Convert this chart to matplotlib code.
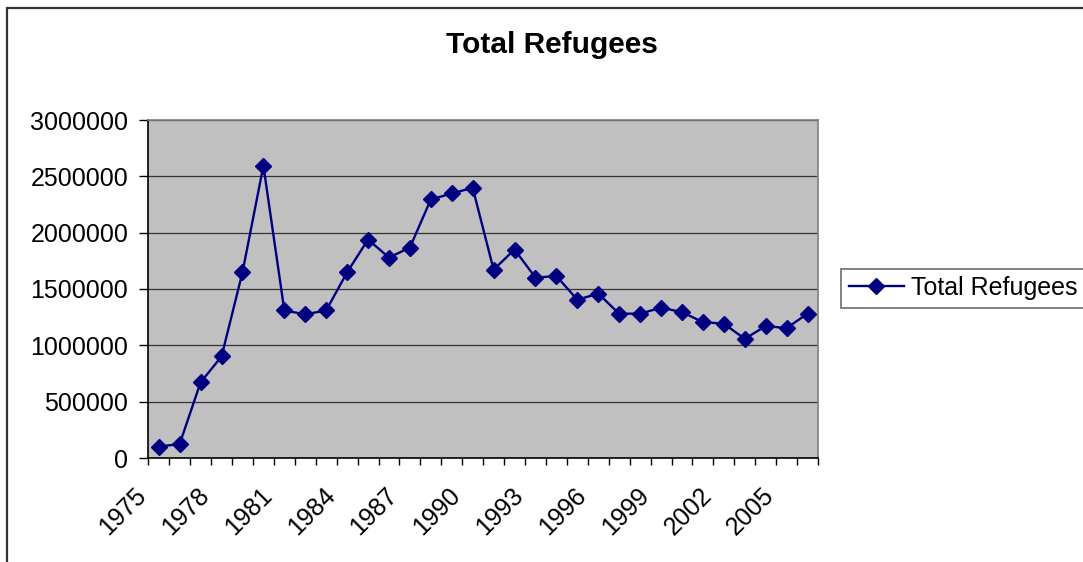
import matplotlib
matplotlib.use("Agg")
import matplotlib.pyplot as plt
import matplotlib.transforms as mtransforms
from matplotlib.patches import Rectangle
from matplotlib.ticker import FixedLocator, NullFormatter, FixedFormatter

years = list(range(1975, 2007))
refugees = [100000, 125000, 672000, 901000, 1648000, 2594000, 1310000, 1275000,
            1310000, 1648000, 1939000, 1779000, 1868000, 2295000, 2348000, 2398000,
            1672000, 1850000, 1601000, 1615000, 1405000, 1459000, 1281000, 1281000,
            1334000, 1295000, 1206000, 1192000, 1058000, 1171000, 1153000, 1281000]
series_name = "Total Refugees"
chart_title = "Total Refugees"
y_ticks = [0, 500000, 1000000, 1500000, 2000000, 2500000, 3000000]

plt.rcParams['font.family'] = ['Liberation Sans', 'DejaVu Sans']

W, H = 1083, 562
fig = plt.figure(figsize=(W / 100, H / 100), dpi=100)
fig.patch.set_facecolor('white')

# chart border
fig.patches.append(Rectangle((7 / W, -0.1), 1.2, 1 - 8 / H + 0.1, transform=fig.transFigure,
                             fill=False, edgecolor='#333333', linewidth=1.6))

L, R, T, B = 148.3, 818, 120, 458
ax = fig.add_axes([L / W, 1 - B / H, (R - L) / W, (B - T) / H])
ax.set_facecolor('#C0C0C0')

x = list(range(len(years)))
ax.plot(x, refugees, color='#000080', linewidth=1.7, marker='D', markersize=8.5,
        markerfacecolor='#000080', markeredgecolor='#000080', label=series_name, zorder=3)

ax.set_xlim(-0.5, len(years) - 0.5)
ax.set_ylim(0, 3000000)

# y axis
ax.yaxis.set_major_locator(FixedLocator(y_ticks))
ax.yaxis.set_major_formatter(FixedFormatter([str(v) for v in y_ticks]))
ax.grid(axis='y', color='#333333', linewidth=0.9, zorder=1)
ax.set_axisbelow(True)
ax.tick_params(axis='y', direction='out', length=6.5, width=1, color='black',
               labelsize=18, pad=8, labelcolor='black')

# x axis: tick marks at category boundaries, labels every 3 years
bounds = [i - 0.5 for i in range(len(years) + 1)]
ax.xaxis.set_major_locator(FixedLocator(bounds))
ax.xaxis.set_major_formatter(NullFormatter())
label_pos = [i for i in x if (years[i] - years[0]) % 3 == 0]
ax.xaxis.set_minor_locator(FixedLocator(label_pos))
ax.xaxis.set_minor_formatter(FixedFormatter([str(years[i]) for i in label_pos]))
ax.tick_params(axis='x', which='major', direction='out', length=5, width=1, color='black')
ax.tick_params(axis='x', which='minor', length=0, labelsize=18, pad=18)
offset = mtransforms.ScaledTranslation(-0.075, 0, fig.dpi_scale_trans)
for lab in ax.xaxis.get_minorticklabels():
    lab.set_rotation(45)
    lab.set_ha('right')
    lab.set_va('top')
    lab.set_transform(lab.get_transform() + offset)

for side in ['top', 'right']:
    ax.spines[side].set_color('#808080')
    ax.spines[side].set_linewidth(1.2)
for side in ['left', 'bottom']:
    ax.spines[side].set_color('black')
    ax.spines[side].set_linewidth(1.2)

fig.text(552 / W, 1 - 45 / H, chart_title, ha='center', va='center',
         fontsize=21.5, fontweight='bold')

leg = ax.legend(loc='center left', bbox_to_anchor=(841 / W, 1 - 288 / H),
                bbox_transform=fig.transFigure, fontsize=18, frameon=True,
                fancybox=False, handlelength=2.2, handletextpad=0.3,
                borderpad=0.3, borderaxespad=0)
leg.get_frame().set_edgecolor('#555555')
leg.get_frame().set_linewidth(1.3)

fig.savefig('out.png', dpi=100)
